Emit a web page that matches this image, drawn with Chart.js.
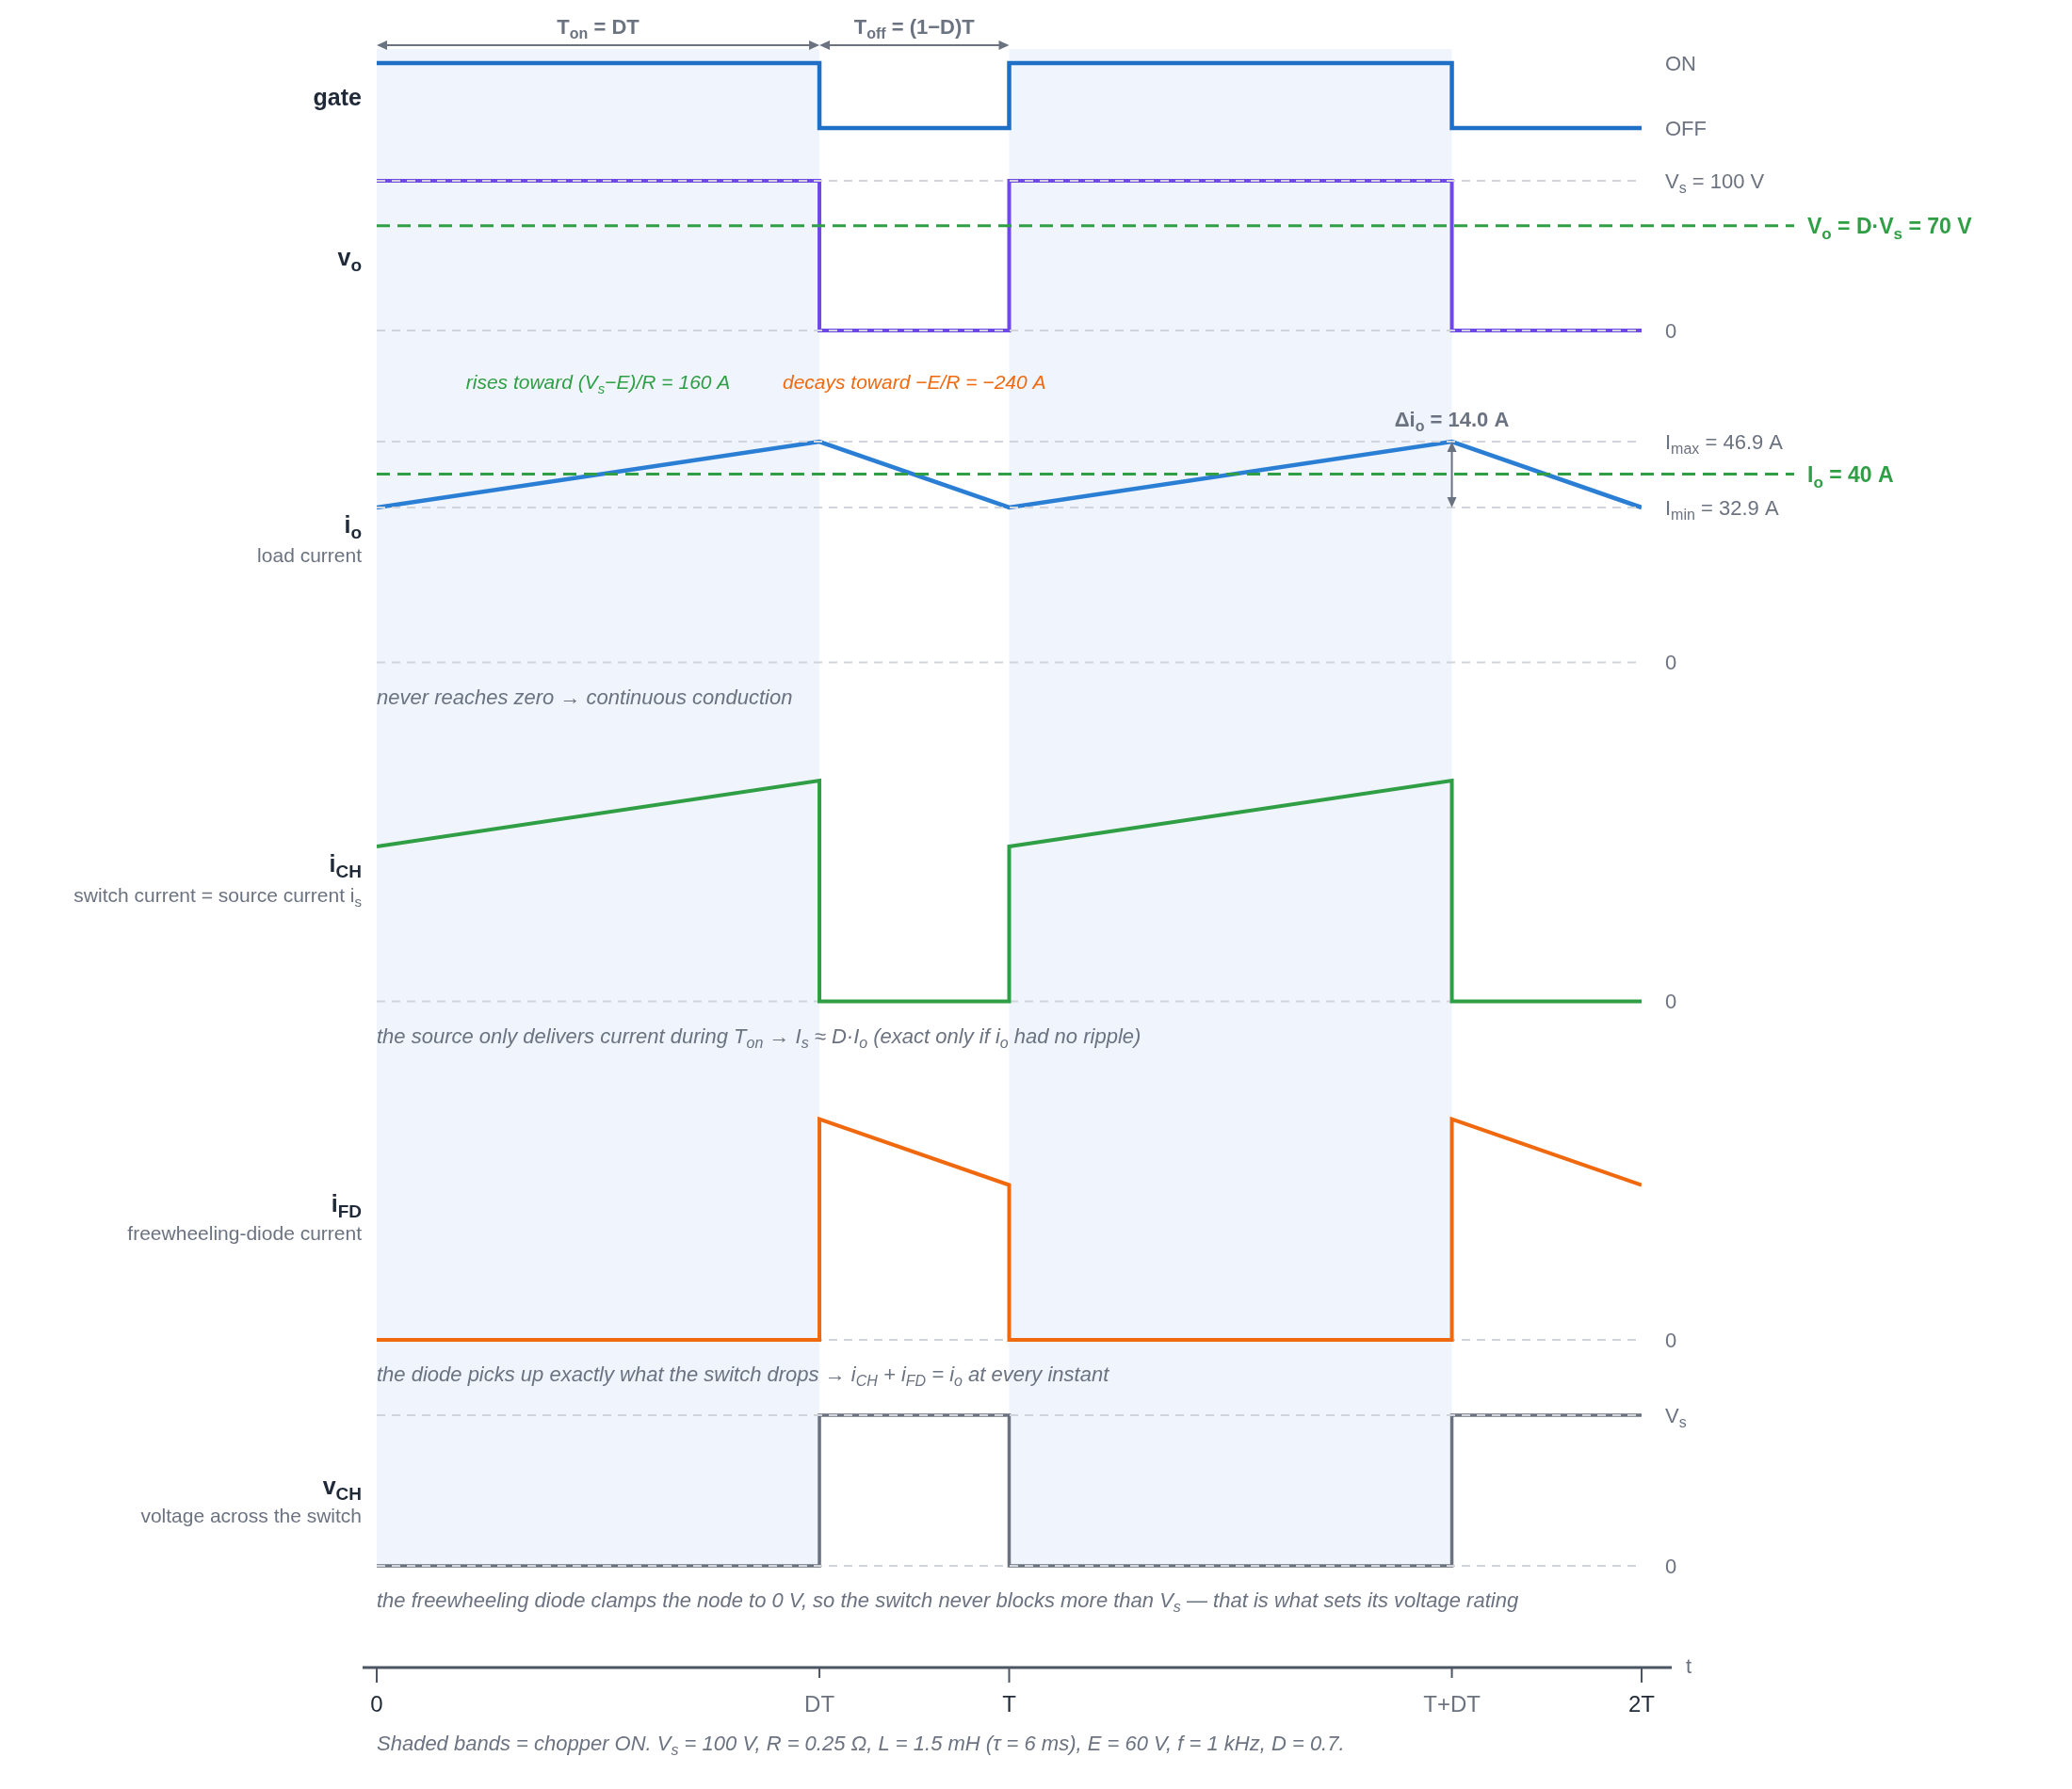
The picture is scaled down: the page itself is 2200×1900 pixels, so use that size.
<!DOCTYPE html>
<html><head><meta charset="utf-8">
<script src="https://cdn.jsdelivr.net/npm/chart.js@4.4.1/dist/chart.umd.min.js"></script>
<style>html,body{margin:0;padding:0;background:#fff}#wrap{width:2200px;height:1900px;position:relative}</style>
</head><body><div id="wrap"><canvas id="c" width="2200" height="1900"></canvas></div>
<script>
// ---------------- data ----------------
const timeTicks = [0, 0.7, 1, 1.7, 2];
const timeTickLabels = ['0', 'DT', 'T', 'T+DT', '2T'];
const majorTicks = [0, 1, 2];
const onBands = [[0, 0.7], [1, 1.7]];

const gateT = [0, 0.7, 0.7, 1, 1, 1.7, 1.7, 2];
const gateV = [1, 1, 0, 0, 1, 1, 0, 0];
const voT = [0, 0.7, 0.7, 1, 1, 1.7, 1.7, 2];
const voV = [100, 100, 0, 0, 100, 100, 0, 0];
const ioT = [0, 0.7, 1, 1.7, 2];
const ioV = [32.9, 46.9, 32.9, 46.9, 32.9];
const ichT = [0, 0.7, 0.7, 1, 1, 1.7, 1.7, 2];
const ichV = [32.9, 46.9, 0, 0, 32.9, 46.9, 0, 0];
const ifdT = [0, 0.7, 0.7, 1, 1, 1.7, 1.7, 2];
const ifdV = [0, 0, 46.9, 32.9, 0, 0, 46.9, 32.9];
const vchT = [0, 0.7, 0.7, 1, 1, 1.7, 1.7, 2];
const vchV = [0, 0, 100, 100, 0, 0, 100, 100];

const Vs = 100, VoAvg = 70, IoAvg = 40, Imax = 46.9, Imin = 32.9;

// ---------------- style / layout ----------------
const F = '"Liberation Sans", Arial, sans-serif';
const GRAY = '#6b7280', DARK = '#1f2937', GREEN = '#2f9e44', ORANGE = '#f0690f';
const PURPLE = '#7048e8', BLUE = '#1f6fc6', BLUE2 = '#2a7fd5', SHADE = '#eff4fd';
const AREA_TOP = 20, AREA_BOTTOM = 1771;
function yRange(vA, pA, vB, pB) {
  const k = (pB - pA) / (vA - vB);
  return { min: vB - (AREA_BOTTOM - pB) / k, max: vA + (pA - AREA_TOP) / k };
}
const pts = (T, V) => T.map((t, i) => ({ x: t, y: V[i] }));

function parseRich(s) {
  const parts = []; const re = /_\{([^}]*)\}/g; let last = 0, m;
  while ((m = re.exec(s))) {
    if (m.index > last) parts.push({ t: s.slice(last, m.index), sub: false });
    parts.push({ t: m[1], sub: true }); last = re.lastIndex;
  }
  if (last < s.length) parts.push({ t: s.slice(last), sub: false });
  return parts;
}
function drawRich(ctx, s, x, y, o) {
  const size = o.size, weight = o.weight || 'normal', style = o.style || 'normal';
  const subSize = Math.round(size * (o.subScale || 0.72));
  const fm = `${style} ${weight} ${size}px ${F}`, fs = `${style} ${weight} ${subSize}px ${F}`;
  const parts = parseRich(s); let w = 0;
  parts.forEach(p => { ctx.font = p.sub ? fs : fm; p.w = ctx.measureText(p.t).width; w += p.w; });
  let cx = o.align === 'right' ? x - w : o.align === 'center' ? x - w / 2 : x;
  ctx.fillStyle = o.color; ctx.textAlign = 'left'; ctx.textBaseline = 'alphabetic';
  parts.forEach(p => { ctx.font = p.sub ? fs : fm; ctx.fillText(p.t, cx, y + (p.sub ? size * 0.25 : 0)); cx += p.w; });
  return w;
}
const drawMid = (ctx, s, x, mid, o) => drawRich(ctx, s, x, mid + o.size * 0.36, o);

function arrowHead(ctx, x, y, dx, dy, len, half) {
  ctx.beginPath();
  ctx.moveTo(x, y);
  ctx.lineTo(x - dx * len - dy * half, y - dy * len + dx * half);
  ctx.lineTo(x - dx * len + dy * half, y - dy * len - dx * half);
  ctx.closePath(); ctx.fill();
}

function refLines(chart, list) {
  const ctx = chart.ctx, s = chart.scales, A = chart.chartArea;
  ctx.save();
  ctx.strokeStyle = '#d1d5db'; ctx.lineWidth = 2; ctx.setLineDash([9, 7]);
  list.forEach(([ax, v]) => { const y = s[ax].getPixelForValue(v); ctx.beginPath(); ctx.moveTo(A.left, y); ctx.lineTo(A.right, y); ctx.stroke(); });
  ctx.restore();
}

const decor = {
  id: 'decor',
  beforeDatasetsDraw(chart) {
    const ctx = chart.ctx, s = chart.scales, x = s.x;
    const top = s.yGate.getPixelForValue(1) - 15, bot = s.yVch.getPixelForValue(0);
    ctx.save(); ctx.fillStyle = SHADE;
    onBands.forEach(([a, b]) => {
      const xa = x.getPixelForValue(a), xb = x.getPixelForValue(b);
      ctx.fillRect(xa, top, xb - xa, bot - top);
    });
    ctx.restore();
    refLines(chart, [['yIo', 0], ['yIch', 0], ['yIfd', 0]]);
  },
  afterDatasetsDraw(chart) {
    const ctx = chart.ctx, s = chart.scales, x = s.x, A = chart.chartArea;
    const L = A.left, R = A.right;
    refLines(chart, [['yVo', Vs], ['yVo', 0], ['yIo', Imax], ['yIo', Imin], ['yVch', Vs], ['yVch', 0]]);
    ctx.save();
    // green average lines
    ctx.strokeStyle = GREEN; ctx.lineWidth = 3; ctx.setLineDash([14, 8]);
    [['yVo', VoAvg], ['yIo', IoAvg]].forEach(([ax, v]) => { const y = s[ax].getPixelForValue(v); ctx.beginPath(); ctx.moveTo(L, y); ctx.lineTo(R + 162, y); ctx.stroke(); });
    ctx.setLineDash([]);

    // right-side level labels
    const RX = R + 25;
    const lab = (ax, v, t) => drawMid(ctx, t, RX, s[ax].getPixelForValue(v), { size: 22, color: GRAY });
    lab('yGate', 1, 'ON'); lab('yGate', 0, 'OFF');
    lab('yVo', Vs, 'V_{s} = 100 V'); lab('yVo', 0, '0');
    lab('yIo', Imax, 'I_{max} = 46.9 A'); lab('yIo', Imin, 'I_{min} = 32.9 A'); lab('yIo', 0, '0');
    lab('yIch', 0, '0'); lab('yIfd', 0, '0');
    lab('yVch', Vs, 'V_{s}'); lab('yVch', 0, '0');
    drawMid(ctx, 'V_{o} = D·V_{s} = 70 V', R + 176, s.yVo.getPixelForValue(VoAvg), { size: 23, weight: 'bold', color: GREEN });
    drawMid(ctx, 'I_{o} = 40 A', R + 176, s.yIo.getPixelForValue(IoAvg), { size: 23, weight: 'bold', color: GREEN });

    // panel labels (left, right-aligned)
    const PX = L - 16;
    const title = (t, base) => drawRich(ctx, t, PX, base, { size: 25, weight: 'bold', color: DARK, subScale: 0.74, align: 'right' });
    const sub = (t, base) => drawRich(ctx, t, PX, base, { size: 21, color: GRAY, align: 'right' });
    title('gate', 112);
    title('v_{o}', 282);
    title('i_{o}', 566); sub('load current', 597);
    title('i_{CH}', 926); sub('switch current = source current i_{s}', 958);
    title('i_{FD}', 1287); sub('freewheeling-diode current', 1317);
    title('v_{CH}', 1587); sub('voltage across the switch', 1617);

    // io annotations
    const xm1 = x.getPixelForValue(0.35), xm2 = x.getPixelForValue(0.85);
    drawMid(ctx, 'rises toward (V_{s}−E)/R = 160 A', xm1, 405, { size: 21, style: 'italic', color: GREEN, align: 'center' });
    drawMid(ctx, 'decays toward −E/R = −240 A', xm2, 405, { size: 21, style: 'italic', color: ORANGE, align: 'center' });
    const xd = x.getPixelForValue(1.7), yMax = s.yIo.getPixelForValue(Imax), yMin = s.yIo.getPixelForValue(Imin);
    drawMid(ctx, 'Δi_{o} = 14.0 A', xd, 445, { size: 22, weight: 'bold', color: GRAY, align: 'center' });
    ctx.strokeStyle = GRAY; ctx.fillStyle = GRAY; ctx.lineWidth = 2;
    ctx.beginPath(); ctx.moveTo(xd, yMax + 8); ctx.lineTo(xd, yMin - 8); ctx.stroke();
    arrowHead(ctx, xd, yMax, 0, -1, 11, 5); arrowHead(ctx, xd, yMin, 0, 1, 11, 5);

    // notes
    const note = (t, mid) => drawMid(ctx, t, L, mid, { size: 22, style: 'italic', color: GRAY });
    note('never reaches zero → continuous conduction', 740);
    note('the source only delivers current during T_{on} → I_{s} ≈ D·I_{o} (exact only if i_{o} had no ripple)', 1100);
    note('the diode picks up exactly what the switch drops → i_{CH} + i_{FD} = i_{o} at every instant', 1459);
    note('the freewheeling diode clamps the node to 0 V, so the switch never blocks more than V_{s} — that is what sets its voltage rating', 1699);
    note('Shaded bands = chopper ON. V_{s} = 100 V, R = 0.25 Ω, L = 1.5 mH (τ = 6 ms), E = 60 V, f = 1 kHz, D = 0.7.', 1851);

    // top period arrows
    const x0 = x.getPixelForValue(0), xDT = x.getPixelForValue(0.7), xT = x.getPixelForValue(1);
    const ya = 48;
    ctx.strokeStyle = GRAY; ctx.fillStyle = GRAY; ctx.lineWidth = 2;
    ctx.beginPath(); ctx.moveTo(x0 + 6, ya); ctx.lineTo(xDT - 6, ya); ctx.moveTo(xDT + 6, ya); ctx.lineTo(xT - 6, ya); ctx.stroke();
    arrowHead(ctx, x0, ya, -1, 0, 11, 5); arrowHead(ctx, xDT, ya, 1, 0, 11, 5);
    arrowHead(ctx, xDT, ya, -1, 0, 11, 5); arrowHead(ctx, xT, ya, 1, 0, 11, 5);
    drawMid(ctx, 'T_{on} = DT', (x0 + xDT) / 2, 28, { size: 22, weight: 'bold', color: GRAY, align: 'center' });
    drawMid(ctx, 'T_{off} = (1−D)T', (xDT + xT) / 2, 28, { size: 22, weight: 'bold', color: GRAY, align: 'center' });

    // time axis line + ticks
    const yb = A.bottom;
    ctx.strokeStyle = '#4b5563'; ctx.lineWidth = 3;
    ctx.beginPath(); ctx.moveTo(L - 15, yb); ctx.lineTo(R + 32, yb); ctx.stroke();
    ctx.lineWidth = 2;
    timeTicks.forEach(v => { const px = x.getPixelForValue(v); const len = majorTicks.includes(v) ? 16 : 11;
      ctx.beginPath(); ctx.moveTo(px, yb); ctx.lineTo(px, yb + len); ctx.stroke(); });
    drawMid(ctx, 't', R + 47, yb - 2, { size: 22, color: GRAY });
    ctx.restore();
  }
};

const lineDs = (T, V, axis, color, w) => ({
  data: pts(T, V), yAxisID: axis, borderColor: color, borderWidth: w,
  pointRadius: 0, tension: 0, fill: false, borderJoinStyle: 'miter', borderCapStyle: 'butt'
});

new Chart(document.getElementById('c'), {
  type: 'line',
  data: {
    datasets: [
      lineDs(gateT, gateV, 'yGate', BLUE, 4.5),
      lineDs(voT, voV, 'yVo', PURPLE, 4),
      lineDs(ioT, ioV, 'yIo', BLUE2, 4.5),
      lineDs(ichT, ichV, 'yIch', GREEN, 4),
      lineDs(ifdT, ifdV, 'yIfd', ORANGE, 4),
      lineDs(vchT, vchV, 'yVch', GRAY, 3.5)
    ]
  },
  options: {
    responsive: false, animation: false, devicePixelRatio: 1,
    layout: { padding: { left: 400, right: 457, top: AREA_TOP, bottom: 0 } },
    plugins: { legend: { display: false }, tooltip: { enabled: false } },
    scales: {
      x: {
        type: 'linear', min: 0, max: 2, position: 'bottom',
        afterFit: sc => { sc.height = 1900 - AREA_BOTTOM; },
        afterBuildTicks: sc => { sc.ticks = timeTicks.map(v => ({ value: v })); },
        grid: { display: false, drawTicks: false }, border: { display: false },
        ticks: {
          padding: 26, autoSkip: false, maxRotation: 0,
          font: { size: 24, family: F },
          color: c => majorTicks.includes(c.tick.value) ? DARK : GRAY,
          callback: v => timeTickLabels[timeTicks.indexOf(v)]
        }
      },
      yGate: { type: 'linear', display: false, ...yRange(1, 67, 0, 136) },
      yVo: { type: 'linear', display: false, ...yRange(100, 192, 0, 351) },
      yIo: { type: 'linear', display: false, ...yRange(50, 453.5, 0, 703.5) },
      yIch: { type: 'linear', display: false, ...yRange(50, 813.5, 0, 1063.5) },
      yIfd: { type: 'linear', display: false, ...yRange(50, 1173, 0, 1423) },
      yVch: { type: 'linear', display: false, ...yRange(100, 1503, 0, 1663) }
    }
  },
  plugins: [decor]
});
</script></body></html>
